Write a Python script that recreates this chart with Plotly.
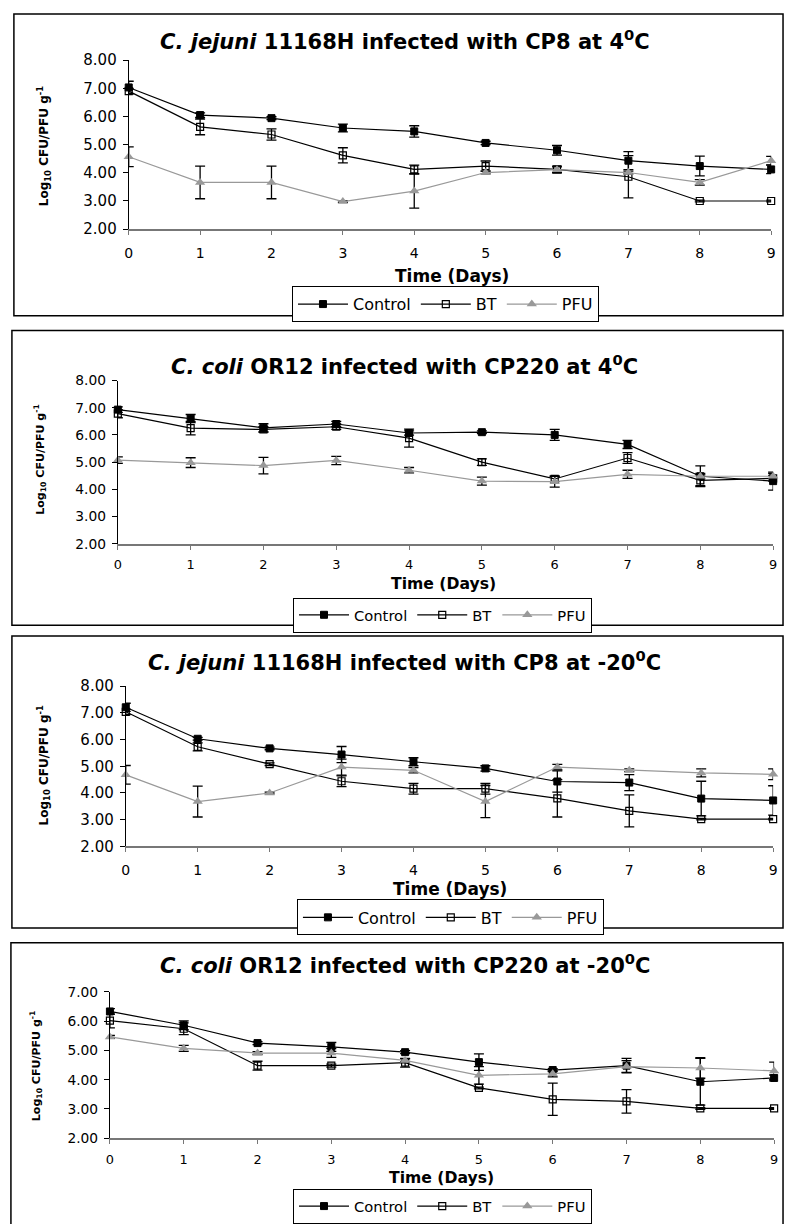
import plotly.graph_objects as go

W, H = 790, 1224
FONT = "DejaVu Sans"

# ---------------- data ----------------
days = [0, 1, 2, 3, 4, 5, 6, 7, 8, 9]
x_tick_labels = ["0", "1", "2", "3", "4", "5", "6", "7", "8", "9"]
y_ticks_8 = [2, 3, 4, 5, 6, 7, 8]
y_ticks_7 = [2, 3, 4, 5, 6, 7]
series_names = ["Control", "BT", "PFU"]

titles = [
    "<b><i>C. jejuni</i> 11168H infected with CP8 at 4<sup>0</sup>C</b>",
    "<b><i>C. coli</i> OR12 infected with CP220 at 4<sup>0</sup>C</b>",
    "<b><i>C. jejuni</i> 11168H infected with CP8 at -20<sup>0</sup>C</b>",
    "<b><i>C. coli</i> OR12 infected with CP220 at -20<sup>0</sup>C</b>",
]
y_title = "<b>Log<sub>10</sub> CFU/PFU g<sup>-1</sup></b>"
x_title = "<b>Time (Days)</b>"

# Panel 1: C. jejuni 11168H / CP8 / 4C
p1_control = [7.03, 6.05, 5.94, 5.59, 5.47, 5.06, 4.80, 4.43, 4.24, 4.12]
p1_control_err = [0.22, 0.08, 0.05, 0.14, 0.20, 0.06, 0.17, 0.32, 0.35, 0.15]
p1_bt = [6.90, 5.63, 5.36, 4.62, 4.12, 4.24, 4.12, 3.86, 3.00, 3.00]
p1_bt_err = [0.10, 0.28, 0.20, 0.27, 0.15, 0.18, 0.12, 0.75, 0.03, 0.03]
p1_pfu = [4.57, 3.66, 3.66, 2.98, 3.35, 4.01, 4.11, 4.01, 3.66, 4.43]
p1_pfu_err = [0.35, 0.58, 0.58, 0.03, 0.60, 0.05, 0.10, 0.05, 0.10, 0.15]

# Panel 2: C. coli OR12 / CP220 / 4C
p2_control = [6.93, 6.60, 6.26, 6.40, 6.07, 6.10, 6.00, 5.65, 4.48, 4.30]
p2_control_err = [0.10, 0.15, 0.15, 0.10, 0.08, 0.05, 0.20, 0.15, 0.38, 0.33]
p2_bt = [6.78, 6.25, 6.20, 6.30, 5.88, 5.00, 4.38, 5.15, 4.33, 4.40]
p2_bt_err = [0.15, 0.25, 0.10, 0.10, 0.33, 0.12, 0.10, 0.20, 0.20, 0.10]
p2_pfu = [5.07, 4.98, 4.87, 5.06, 4.70, 4.30, 4.28, 4.55, 4.48, 4.48]
p2_pfu_err = [0.12, 0.18, 0.30, 0.15, 0.10, 0.15, 0.20, 0.15, 0.10, 0.10]

# Panel 3: C. jejuni 11168H / CP8 / -20C
p3_control = [7.21, 6.03, 5.67, 5.44, 5.17, 4.92, 4.43, 4.39, 3.79, 3.72]
p3_control_err = [0.15, 0.05, 0.05, 0.30, 0.15, 0.10, 0.40, 0.30, 0.65, 0.55]
p3_bt = [7.04, 5.73, 5.08, 4.44, 4.16, 4.16, 3.80, 3.33, 3.02, 3.02]
p3_bt_err = [0.10, 0.15, 0.05, 0.20, 0.20, 0.20, 0.70, 0.60, 0.03, 0.03]
p3_pfu = [4.68, 3.68, 4.00, 4.97, 4.85, 3.68, 4.97, 4.85, 4.75, 4.70]
p3_pfu_err = [0.35, 0.58, 0.03, 0.30, 0.10, 0.60, 0.10, 0.05, 0.15, 0.20]

# Panel 4: C. coli OR12 / CP220 / -20C
p4_control = [6.33, 5.86, 5.25, 5.12, 4.94, 4.60, 4.33, 4.48, 3.93, 4.06]
p4_control_err = [0.10, 0.15, 0.05, 0.15, 0.05, 0.28, 0.05, 0.25, 0.80, 0.10]
p4_bt = [6.02, 5.74, 4.48, 4.48, 4.58, 3.72, 3.33, 3.26, 3.02, 3.02]
p4_bt_err = [0.25, 0.20, 0.15, 0.05, 0.15, 0.03, 0.55, 0.40, 0.03, 0.03]
p4_pfu = [5.46, 5.07, 4.91, 4.91, 4.66, 4.15, 4.20, 4.45, 4.40, 4.30]
p4_pfu_err = [0.05, 0.10, 0.05, 0.15, 0.05, 0.30, 0.10, 0.20, 0.35, 0.30]

# ---------------- layout (pixels) ----------------
def PX(x):
    return x / W

def PY(y):
    return 1 - y / H

panels = [
    dict(vals=[(p1_control, p1_control_err), (p1_bt, p1_bt_err), (p1_pfu, p1_pfu_err)],
         yt=y_ticks_8, box=(10, 5, 787, 312), plot=(126, 52, 775, 224), title_y=32,
         xtitle=(453, 272), legend=(446, 282), ytitle=(40, 140), fs=1.0),
    dict(vals=[(p2_control, p2_control_err), (p2_bt, p2_bt_err), (p2_pfu, p2_pfu_err)],
         yt=y_ticks_8, box=(8, 327, 787, 627), plot=(115, 378, 777, 544), title_y=362,
         xtitle=(444, 585), legend=(443, 599), ytitle=(37, 458), fs=0.92),
    dict(vals=[(p3_control, p3_control_err), (p3_bt, p3_bt_err), (p3_pfu, p3_pfu_err)],
         yt=y_ticks_8, box=(8, 638, 787, 935), plot=(123, 689, 777, 852), title_y=663,
         xtitle=(451, 895), legend=(451, 906), ytitle=(40, 770), fs=1.0),
    dict(vals=[(p4_control, p4_control_err), (p4_bt, p4_bt_err), (p4_pfu, p4_pfu_err)],
         yt=y_ticks_7, box=(7, 950, 787, 1260), plot=(107, 1000, 778, 1149), title_y=972,
         xtitle=(442, 1189), legend=(443, 1201), ytitle=(32, 1075), fs=0.92),
]

styles = [
    dict(line=dict(color="black", width=1.2),
         marker=dict(symbol="square", size=7, color="black", line=dict(color="black", width=1))),
    dict(line=dict(color="black", width=1.2),
         marker=dict(symbol="square-open", size=7, color="black", line=dict(color="black", width=1.2))),
    dict(line=dict(color="#999999", width=1.2),
         marker=dict(symbol="triangle-up", size=9, color="#999999", line=dict(color="#999999", width=0))),
]

fig = go.Figure()
layout = dict(
    width=W, height=H, margin=dict(l=0, r=0, t=0, b=0),
    paper_bgcolor="white", plot_bgcolor="white",
    font=dict(family=FONT, color="black"),
    showlegend=True,
)
shapes = []
annotations = []

for i, p in enumerate(panels):
    k = "" if i == 0 else str(i + 1)
    xa, ya = "x" + k, "y" + k
    leg = "legend" + k
    fs = p["fs"]
    for (vals, errs), name, st in zip(p["vals"], series_names, styles):
        fig.add_trace(go.Scatter(
            x=days, y=vals, name=name, mode="lines+markers",
            line=st["line"], marker=st["marker"],
            error_y=dict(type="data", array=errs, visible=True, color="black",
                         thickness=1.3, width=5),
            xaxis=xa, yaxis=ya, legend=leg, cliponaxis=False,
        ))
    x0, y0, x1, y1 = p["plot"]
    yt = p["yt"]
    layout["xaxis" + k] = dict(
        domain=[PX(x0), PX(x1)], anchor=ya, range=[0, 9],
        tickvals=days, ticktext=x_tick_labels,
        showline=True, linecolor="#777777", linewidth=2,
        ticks="outside", ticklen=4, tickcolor="#777777", tickwidth=1,
        ticklabelstandoff=6 if fs == 1.0 else 4,
        showgrid=False, zeroline=False, fixedrange=True,
        tickfont=dict(family=FONT, size=14 * fs, color="black"),
    )
    layout["yaxis" + k] = dict(
        domain=[PY(y1), PY(y0)], anchor=xa, range=[yt[0], yt[-1]],
        tickvals=yt, ticktext=["%.2f" % v for v in yt],
        showline=True, linecolor="black", linewidth=1,
        ticks="outside", ticklen=5, tickcolor="black", tickwidth=1,
        ticklabelstandoff=3,
        showgrid=False, zeroline=False, fixedrange=True,
        tickfont=dict(family=FONT, size=15 * fs, color="black"),
    )
    lx, ly = p["legend"]
    layout[leg] = dict(
        orientation="h", x=PX(lx), xanchor="center", y=PY(ly), yanchor="top",
        xref="paper", yref="paper",
        bordercolor="black", borderwidth=1, bgcolor="white",
        font=dict(family=FONT, size=16 * fs, color="black"),
        itemwidth=50, tracegroupgap=0,
    )
    bx0, by0, bx1, by1 = p["box"]
    shapes.append(dict(type="rect", xref="paper", yref="paper",
                       x0=PX(bx0), x1=PX(bx1), y0=PY(by1), y1=PY(by0),
                       line=dict(color="black", width=1.5), fillcolor="rgba(0,0,0,0)",
                       layer="below"))
    annotations.append(dict(text=titles[i], x=PX(405), y=PY(p["title_y"]),
                            xref="paper", yref="paper", showarrow=False,
                            xanchor="center", yanchor="middle",
                            font=dict(family=FONT, size=21, color="black")))
    tx, ty = p["xtitle"]
    annotations.append(dict(text=x_title, x=PX(tx), y=PY(ty),
                            xref="paper", yref="paper", showarrow=False,
                            xanchor="center", yanchor="middle",
                            font=dict(family=FONT, size=17 * fs, color="black")))
    yx, yy = p["ytitle"]
    annotations.append(dict(text=y_title, x=PX(yx), y=PY(yy), textangle=-90,
                            xref="paper", yref="paper", showarrow=False,
                            xanchor="center", yanchor="middle",
                            font=dict(family=FONT, size=12 * fs, color="black")))

layout["shapes"] = shapes
layout["annotations"] = annotations
fig.update_layout(**layout)
fig.write_html(
    "out.html",
    config={"displayModeBar": False},
    post_script="document.body.style.margin='0';document.body.style.overflow='hidden';",
)
